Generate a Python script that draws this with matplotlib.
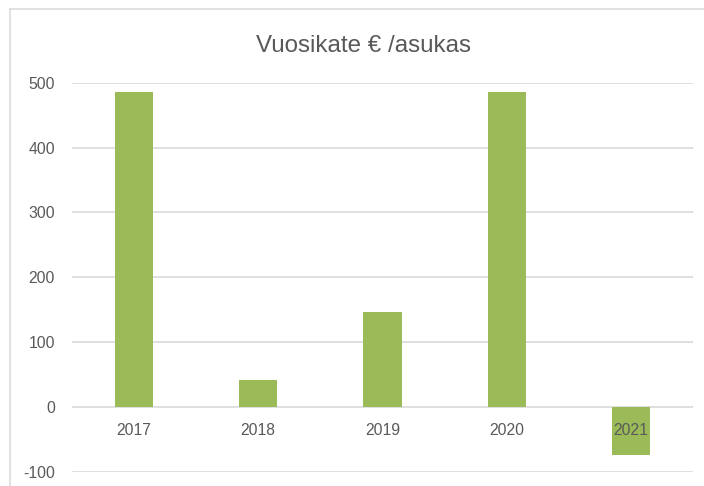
import matplotlib.pyplot as plt
from matplotlib.lines import Line2D

years = ["2017", "2018", "2019", "2020", "2021"]
values = [485, 42, 146, 485, -74]
y_ticks = [-100, 0, 100, 200, 300, 400, 500]

TEXT = "#595959"
GRID = "#D9D9D9"
GREEN = "#9BBB59"

plt.rcParams["font.family"] = ["Liberation Sans", "DejaVu Sans"]
plt.rcParams["axes.unicode_minus"] = False

fig = plt.figure(figsize=(7.04, 4.86), dpi=100)
ax = fig.add_axes([0.1018, 0.0298, 0.8830, 0.8000])

x = list(range(len(years)))
ax.bar(x, values, width=0.31, color=GREEN, zorder=2)

ax.set_xlim(-0.5, len(years) - 0.5)
ax.set_ylim(y_ticks[0], y_ticks[-1])
ax.set_yticks(y_ticks)
ax.set_xticks([])
ax.yaxis.grid(True, color=GRID, linewidth=1.2)
ax.set_axisbelow(True)
for s in ax.spines.values():
    s.set_visible(False)
ax.tick_params(axis="y", length=0, pad=12, labelsize=11.3, labelcolor=TEXT)

# category labels sit just under the zero line, like Excel does
for xi, label in zip(x, years):
    ax.annotate(label, (xi, 0), xytext=(0, -23.5), textcoords="offset pixels",
                ha="center", va="center", fontsize=11.3, color=TEXT, zorder=3)

fig.text(0.516, 0.8936, "Vuosikate € /asukas", ha="center", va="baseline",
         fontsize=17.4, color=TEXT)

# chart area border (cut off on the right and bottom)
fig.add_artist(Line2D([9.5 / 704, 9.5 / 704], [0, 1 - 9.5 / 486], color=GRID, lw=1.1,
                      transform=fig.transFigure))
fig.add_artist(Line2D([9.5 / 704, 1], [1 - 9.5 / 486, 1 - 9.5 / 486], color=GRID, lw=1.1,
                      transform=fig.transFigure))

plt.savefig("out.png", dpi=100)
plt.close()
